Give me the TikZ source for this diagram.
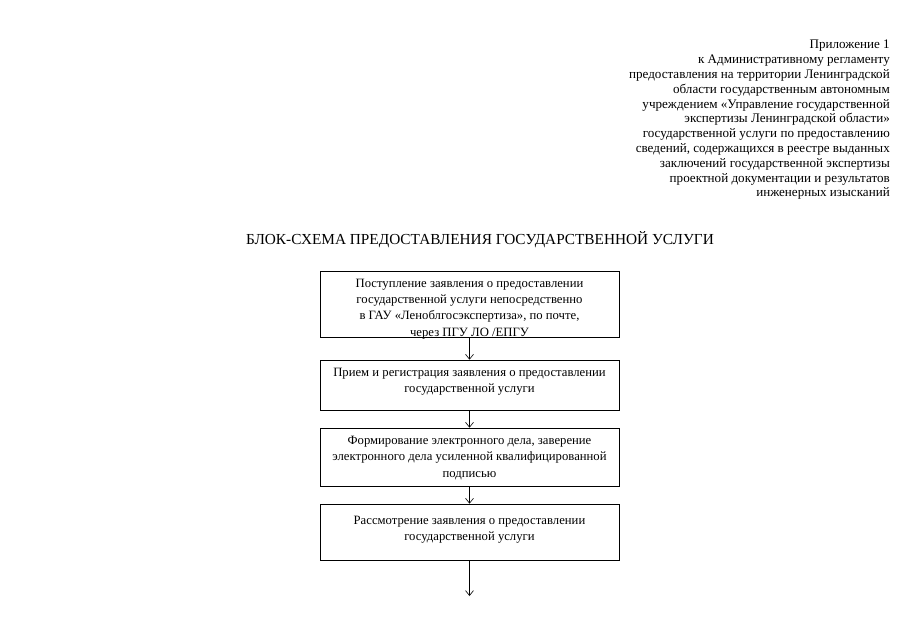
\documentclass[tikz,border=0pt]{standalone}
\usepackage{fontspec}
\setmainfont{Liberation Serif}
\usetikzlibrary{arrows.meta}
\begin{document}
\begin{tikzpicture}[x=1pt,y=-1pt,
  stepbox/.style={draw, line width=0.6pt, minimum width=299pt},
  steptext/.style={inner sep=0pt, align=center, font=\fontsize{12.7}{16.3}\selectfont},
  flow/.style={-{Straight Barb[length=5pt,width=8pt]}, line width=0.6pt}]
\useasboundingbox (0,0) rectangle (905,640);
\node[anchor=north east, align=right, inner sep=0pt,
  font=\fontsize{13.1}{14.8}\selectfont] (hdr) at (890,40)
  {Приложение 1\\
   к Административному регламенту\\
   предоставления на территории Ленинградской\\
   области государственным автономным\\
   учреждением «Управление государственной\\
   экспертизы Ленинградской области»\\
   государственной услуги по предоставлению\\
   сведений, содержащихся в реестре выданных\\
   заключений государственной экспертизы\\
   проектной документации и результатов\\
   инженерных изысканий};
\node[font=\fontsize{15.3}{17}\selectfont, inner sep=0pt] (title) at (480,240)
  {БЛОК-СХЕМА ПРЕДОСТАВЛЕНИЯ ГОСУДАРСТВЕННОЙ УСЛУГИ};
\node[stepbox, minimum height=66pt] (b1) at (469.5,304) {};
\node[steptext] (t1) at (469.5,309)
  {Поступление заявления о предоставлении\\
   государственной услуги непосредственно\\
   в ГАУ «Леноблгосэкспертиза», по почте,\\
   через ПГУ ЛО /ЕПГУ};
\node[stepbox, minimum height=50pt] (b2) at (469.5,385) {};
\node[steptext] (t2) at (469.5,382)
  {Прием и регистрация заявления о предоставлении\\
   государственной услуги};
\node[stepbox, minimum height=58pt] (b3) at (469.5,457) {};
\node[steptext] (t3) at (469.5,458)
  {Формирование электронного дела, заверение\\
   электронного дела усиленной квалифицированной\\
   подписью};
\node[stepbox, minimum height=56pt] (b4) at (469.5,532) {};
\node[steptext] (t4) at (469.5,530)
  {Рассмотрение заявления о предоставлении\\
   государственной услуги};
\coordinate (end) at (469.5,596);
\draw[flow] (b1) -- (b2);
\draw[flow] (b2) -- (b3);
\draw[flow] (b3) -- (b4);
\draw[flow] (b4) -- (end);
\end{tikzpicture}
\end{document}
